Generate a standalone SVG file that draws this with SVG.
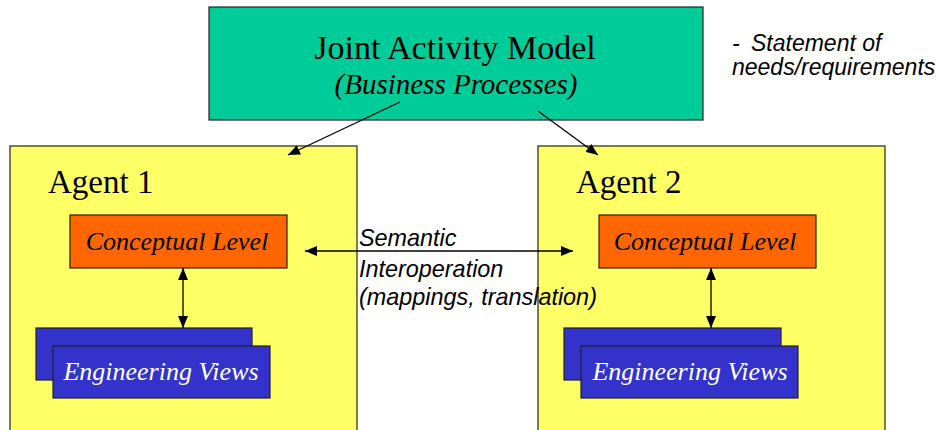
<svg xmlns="http://www.w3.org/2000/svg" width="937" height="430" viewBox="0 0 937 430">
  <style>
    .box { stroke: #222; stroke-width: 1.2; }
    .jam { fill: #00CC99; }
    .agent { fill: #FFFF66; }
    .concept { fill: #FF6600; }
    .eng { fill: #3333CC; }
    .serif { font-family: "Liberation Serif", "Times New Roman", serif; fill: #000; }
    .it { font-style: italic; }
    .white { fill: #fff; }
    .sans { font-family: "Liberation Sans", Arial, sans-serif; font-style: italic; fill: #000; }
    .conn { stroke: #000; stroke-width: 1.3; fill: none; }
  </style>
  <defs>
    <marker id="ah" viewBox="0 0 12 10" refX="12" refY="5" markerWidth="12" markerHeight="10" markerUnits="userSpaceOnUse" orient="auto-start-reverse">
      <path d="M0,0 L12,5 L0,10 z" fill="#000"/>
    </marker>
  </defs>
  <rect width="937" height="430" fill="#fff"/>

  <g id="agent1">
    <rect class="box agent" x="10" y="146" width="347" height="300"/>
    <text class="serif" x="48" y="193" font-size="33">Agent 1</text>
  </g>
  <g id="agent2">
    <rect class="box agent" x="538" y="146" width="347" height="300"/>
    <text class="serif" x="576" y="193" font-size="33">Agent 2</text>
  </g>

  <g id="joint-activity-model">
    <rect class="box jam" x="209" y="7" width="494" height="113"/>
    <text class="serif" x="455" y="59" font-size="34" text-anchor="middle">Joint Activity Model</text>
    <text class="serif it" x="456" y="94" font-size="29" text-anchor="middle">(Business Processes)</text>
  </g>

  <g id="conceptual1">
    <rect class="box concept" x="70" y="215" width="217" height="53"/>
    <text class="serif it" x="177" y="250" font-size="26" text-anchor="middle">Conceptual Level</text>
  </g>
  <g id="conceptual2">
    <rect class="box concept" x="599" y="215" width="217" height="53"/>
    <text class="serif it" x="705" y="250" font-size="26" text-anchor="middle">Conceptual Level</text>
  </g>

  <g id="engineering1">
    <rect class="box eng" x="36" y="328" width="216" height="52"/>
    <rect class="box eng" x="53" y="346" width="217" height="52"/>
    <text class="serif it white" x="161" y="380" font-size="26" text-anchor="middle">Engineering Views</text>
  </g>
  <g id="engineering2">
    <rect class="box eng" x="564" y="328" width="217" height="52"/>
    <rect class="box eng" x="581" y="346" width="217" height="52"/>
    <text class="serif it white" x="690" y="380" font-size="26" text-anchor="middle">Engineering Views</text>
  </g>

  <g id="connectors">
    <line class="conn" x1="400" y1="102" x2="288" y2="155" marker-end="url(#ah)"/>
    <line class="conn" x1="538" y1="111" x2="598" y2="155" marker-end="url(#ah)"/>
    <line class="conn" x1="305" y1="251" x2="573" y2="251" marker-start="url(#ah)" marker-end="url(#ah)"/>
    <line class="conn" x1="183" y1="268" x2="183" y2="328" marker-start="url(#ah)" marker-end="url(#ah)"/>
    <line class="conn" x1="711" y1="268" x2="711" y2="328" marker-start="url(#ah)" marker-end="url(#ah)"/>
  </g>

  <g id="semantic-label">
    <text class="sans" font-size="23.4">
      <tspan x="359" y="246">Semantic</tspan>
      <tspan x="359" y="277">Interoperation</tspan>
      <tspan x="359" y="305">(mappings, translation)</tspan>
    </text>
  </g>

  <g id="statement-note">
    <text class="sans" font-size="23">
      <tspan x="732" y="51">-</tspan><tspan x="751" y="51">Statement of</tspan>
      <tspan x="732" y="75">needs/requirements</tspan>
    </text>
  </g>
</svg>
